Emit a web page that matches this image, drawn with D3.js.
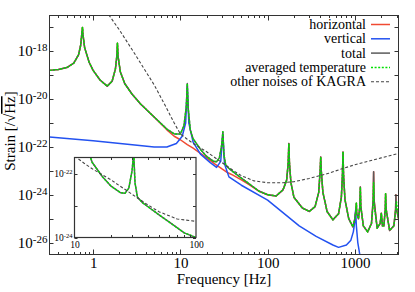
<!DOCTYPE html>
<html>
<head>
<meta charset="utf-8">
<script src="https://cdn.jsdelivr.net/npm/d3@7"></script>
<style>
  html, body { margin: 0; padding: 0; background: #fff; }
</style>
</head>
<body>
<div id="chart"></div>
<script>
// Series values: [frequency Hz, strain /sqrt(Hz)]
const averagedTemp = [
  [0.316, 1.6e-19], [0.4, 1.75e-19], [0.5, 2.1e-19], [0.6, 3.2e-19], [0.68, 7.1e-19],
  [0.72, 1.8e-18], [0.745, 6.3e-18], [0.755, 1e-17], [0.765, 5e-18], [0.8, 1.4e-18],
  [0.9, 3.5e-19], [1.0, 1.6e-19], [1.2, 6.3e-20], [1.45, 3.5e-20], [1.65, 5.6e-20],
  [1.8, 1.8e-19], [1.87, 6.3e-19], [1.9, 2.2e-18], [1.93, 6.3e-19], [2.05, 1.4e-19],
  [2.3, 4.5e-20], [2.8, 1.6e-20], [3.5, 6.3e-21], [5, 1.8e-21], [7, 5.6e-22],
  [8.5, 3.5e-22], [10, 3.5e-22], [11, 7.9e-22], [11.7, 5e-21], [12, 4.5e-20],
  [12.3, 4e-21], [13, 5e-22], [14, 2.2e-22], [17, 7.9e-23], [20, 4e-23],
  [24, 2.5e-23], [26, 2.4e-23], [28, 3.5e-23], [29.8, 1.26e-22], [30.7, 4.3e-22],
  [31.5, 5e-23], [33, 1.8e-23], [36, 1.26e-23], [40, 9.3e-24], [50, 5e-24],
  [62, 2.8e-24], [80, 1.4e-24], [100, 1e-24], [125, 8.9e-25], [150, 1.6e-24],
  [165, 4e-24], [172, 2e-23], [175, 1.4e-22], [178, 2e-23], [185, 3.2e-24],
  [200, 7.9e-25], [250, 2.8e-25], [300, 2e-25], [350, 3.2e-25], [385, 1.26e-24],
  [400, 1e-23], [406, 3.8e-23], [412, 1e-23], [430, 1.26e-24], [480, 2e-25],
  [560, 8.9e-26], [650, 1.6e-25], [700, 7.9e-25], [720, 6.3e-24], [731, 6.2e-23],
  [742, 6.3e-24], [770, 6.3e-25], [850, 1e-25], [950, 4.5e-26], [1000, 1e-25],
  [1030, 2.5e-25], [1040, 4.4e-25], [1050, 1.6e-25], [1100, 1e-25], [1140, 3.2e-25],
  [1155, 2.1e-24], [1170, 3.2e-25], [1250, 5e-26], [1400, 2.8e-26], [1550, 6.3e-26],
  [1620, 4e-25], [1640, 3.2e-24], [1660, 4e-25], [1800, 4e-26], [1950, 6.3e-26],
  [2010, 1.7e-25], [2070, 5e-26], [2150, 5e-26], [2230, 2.5e-25], [2250, 1.1e-24],
  [2280, 2.5e-25], [2500, 3.2e-26], [2800, 5e-26], [2950, 2.5e-25], [3000, 5e-25],
  [3162, 1e-25]
];

const totalNoise = [
  [0.316, 1.6e-19], [0.4, 1.75e-19], [0.5, 2.1e-19], [0.6, 3.2e-19], [0.68, 7.1e-19],
  [0.72, 1.8e-18], [0.745, 6.3e-18], [0.755, 1e-17], [0.765, 5e-18], [0.8, 1.4e-18],
  [0.9, 3.5e-19], [1.0, 1.6e-19], [1.2, 6.3e-20], [1.45, 3.5e-20], [1.65, 5.6e-20],
  [1.8, 1.8e-19], [1.87, 6.3e-19], [1.9, 2.2e-18], [1.93, 6.3e-19], [2.05, 1.4e-19],
  [2.3, 4.5e-20], [2.8, 1.6e-20], [3.5, 6.3e-21], [5, 1.8e-21], [7, 5.6e-22],
  [8.5, 3.5e-22], [10, 3.5e-22], [11, 7.9e-22], [11.7, 5e-21], [12, 4.5e-20],
  [12.3, 4e-21], [13, 5e-22], [14, 2.2e-22], [17, 7.9e-23], [20, 4e-23],
  [24, 2.5e-23], [26, 2.4e-23], [28, 3.5e-23], [29.8, 1.26e-22], [30.7, 4.3e-22],
  [31.5, 5e-23], [33, 1.8e-23], [36, 1.26e-23], [40, 9.3e-24], [50, 5e-24],
  [62, 2.8e-24], [80, 1.4e-24], [100, 1e-24], [125, 8.9e-25], [150, 1.6e-24],
  [165, 4e-24], [172, 2e-23], [175, 1.4e-22], [178, 2e-23], [185, 3.2e-24],
  [200, 7.9e-25], [250, 2.8e-25], [300, 2e-25], [350, 3.2e-25], [385, 1.26e-24],
  [400, 1e-23], [406, 3.8e-23], [412, 1e-23], [430, 1.26e-24], [480, 2e-25],
  [560, 8.9e-26], [650, 1.6e-25], [700, 7.9e-25], [720, 6.3e-24], [731, 6.2e-23],
  [742, 6.3e-24], [770, 6.3e-25], [850, 1e-25], [950, 4.5e-26], [1000, 1e-25],
  [1030, 2.5e-25], [1040, 4.4e-25], [1050, 1.6e-25], [1100, 1e-25], [1140, 3.2e-25],
  [1155, 2.1e-24], [1170, 3.2e-25], [1250, 5e-26], [1400, 2.8e-26], [1550, 6.3e-26],
  [1620, 6e-25], [1640, 9.1e-24], [1660, 6e-25], [1800, 4e-26], [1950, 6.3e-26],
  [2010, 1.7e-25], [2070, 5e-26], [2150, 5e-26], [2230, 2.5e-25], [2250, 1.1e-24],
  [2280, 2.5e-25], [2500, 3.2e-26], [2800, 5e-26], [2930, 2.5e-25], [2950, 1e-24],
  [2970, 3e-25], [3162, 1e-25]
];

const horizontal = [
  [0.316, 1.6e-19], [0.4, 1.75e-19], [0.5, 2.1e-19], [0.6, 3.2e-19], [0.68, 7.1e-19],
  [0.72, 1.8e-18], [0.745, 6.3e-18], [0.755, 1e-17], [0.765, 5e-18], [0.8, 1.4e-18],
  [0.9, 3.5e-19], [1.0, 1.6e-19], [1.2, 6.3e-20], [1.45, 3.5e-20], [1.65, 5.6e-20],
  [1.8, 1.8e-19], [1.87, 6.3e-19], [1.9, 2.2e-18], [1.93, 6.3e-19], [2.05, 1.4e-19],
  [2.3, 4.5e-20], [2.8, 1.6e-20], [3.5, 6.3e-21], [5, 1.8e-21], [7, 5.2e-22],
  [8.5, 2.8e-22], [10, 2e-22], [12, 1.26e-22], [14, 8.9e-23], [17, 5.4e-23],
  [20, 3.5e-23], [25, 1.9e-23], [30, 1.2e-23], [35, 8.3e-24], [40, 6.6e-24],
  [50, 4.2e-24], [62, 2.6e-24], [80, 1.4e-24], [100, 1e-24], [125, 8.9e-25],
  [150, 1.6e-24], [165, 4e-24], [172, 2e-23], [175, 1.4e-22], [178, 2e-23],
  [185, 3.2e-24], [200, 7.9e-25], [250, 2.8e-25], [300, 2e-25], [350, 3.2e-25],
  [385, 1.26e-24], [400, 1e-23], [406, 3.8e-23], [412, 1e-23], [430, 1.26e-24],
  [480, 2e-25], [560, 8.9e-26], [650, 1.6e-25], [700, 7.9e-25], [720, 6.3e-24],
  [731, 6.2e-23], [742, 6.3e-24], [770, 6.3e-25], [850, 1e-25], [950, 4.5e-26],
  [1000, 1e-25], [1030, 2.5e-25], [1040, 4.4e-25], [1050, 1.6e-25], [1100, 1e-25],
  [1140, 3.2e-25], [1155, 2.1e-24], [1170, 3.2e-25], [1250, 5e-26], [1400, 2.8e-26],
  [1550, 6.3e-26], [1620, 6e-25], [1640, 9.1e-24], [1660, 6e-25], [1800, 4e-26],
  [1950, 6.3e-26], [2010, 1.7e-25], [2070, 5e-26], [2150, 5e-26], [2230, 2.5e-25],
  [2250, 1.1e-24], [2280, 2.5e-25], [2500, 3.2e-26], [2800, 5e-26], [2930, 2.5e-25],
  [2950, 1e-24], [2970, 3e-25], [3162, 1e-25]
];

const vertical = [
  [0.316, 2.6e-22], [1, 1.8e-22], [3, 1.2e-22], [5, 1e-22], [7, 1e-22],
  [9, 1.4e-22], [10.5, 2.8e-22], [11.5, 1e-21], [12, 3.5e-20], [12.5, 1e-21],
  [14, 1.6e-22], [17, 5e-23], [22, 2.2e-23], [26, 1.4e-23], [29, 2.5e-23],
  [30.7, 3.5e-22], [32, 2e-23], [36, 5.6e-24], [50, 2.5e-24], [100, 6e-25],
  [230, 5e-26], [360, 1.8e-26], [560, 7.9e-27], [650, 6.3e-27], [800, 7.9e-27],
  [900, 1.26e-26], [960, 2.8e-26], [1000, 7.9e-26], [1020, 2.3e-25], [1040, 5e-26],
  [1080, 1e-26], [1150, 2.5e-27], [1300, 3.2e-28]
];

const kagraOther = [
  [1.4, 5e-17], [2, 7.9e-18], [3, 7.9e-19], [5, 4e-20], [7, 4e-21],
  [8.5, 1e-21], [10, 3.5e-22], [12, 2.1e-22], [14, 1.4e-22], [20, 6.3e-23],
  [30, 2.2e-23], [40, 1.05e-23], [50, 6.3e-24], [70, 3.8e-24], [100, 3.2e-24],
  [150, 3.2e-24], [200, 3.5e-24], [300, 4.8e-24], [500, 7.9e-24], [700, 1.2e-23],
  [1000, 1.8e-23], [2000, 3.5e-23], [3162, 5.4e-23]
];

const xMajorTicks = [1, 10, 100, 1000];
const yDecades = [-26, -25, -24, -23, -22, -21, -20, -19, -18, -17];
const yLabelled = [-26, -24, -22, -20, -18];
const insetYDecades = [-24, -23, -22];
const insetYLabelled = [-24, -22];
const legendNames = ["horizontal", "vertical", "total", "averaged temperature", "other noises of KAGRA"];

const SERIF = "'Liberation Serif', 'Times New Roman', Times, 'DejaVu Serif', serif";

document.addEventListener('DOMContentLoaded', function () {
  const W = 415, H = 292;
  const plot = { left: 49.5, right: 398.5, top: 15.5, bottom: 254.5 };
  const inset = { left: 74.5, right: 196, top: 157.5, bottom: 237.5 };

  const svg = d3.select("#chart").append("svg")
    .attr("width", W).attr("height", H)
    .style("display", "block")
    .style("font-family", SERIF);

  svg.append("rect").attr("width", W).attr("height", H).attr("fill", "#fff");

  const x = d3.scaleLog().domain([Math.pow(10, -0.5), Math.pow(10, 3.5)]).range([plot.left, plot.right]);
  const y = d3.scaleLog().domain([Math.pow(10, -26.5), Math.pow(10, -16.5)]).range([plot.bottom, plot.top]);

  const xi = d3.scaleLog().domain([10, 100]).range([inset.left, inset.right]);
  const yi = d3.scaleLog().domain([1e-24, Math.pow(10, -21.5)]).range([inset.bottom, inset.top]);

  const defs = svg.append("defs");
  defs.append("clipPath").attr("id", "clip-main").append("rect")
    .attr("x", plot.left).attr("y", plot.top)
    .attr("width", plot.right - plot.left).attr("height", plot.bottom - plot.top);
  defs.append("clipPath").attr("id", "clip-inset").append("rect")
    .attr("x", inset.left).attr("y", inset.top)
    .attr("width", inset.right - inset.left).attr("height", inset.bottom - inset.top);

  // series styles
  const series = [
    { data: horizontal,   color: "#f04a32", width: 1.5, dash: null,    inInset: false },
    { data: vertical,     color: "#2352f0", width: 1.5, dash: null,    inInset: false },
    { data: totalNoise,   color: "#5a5a5a", width: 1.5, dash: null,    inInset: true },
    { data: averagedTemp, color: "#00e000", width: 1.5, dash: "2 1.6", inInset: true },
    { data: kagraOther,   color: "#444444", width: 1.1, dash: "3 2",   inInset: true }
  ];

  function drawSeries(g, xs, ys, list) {
    const line = d3.line().x(d => xs(d[0])).y(d => ys(d[1]));
    list.forEach(s => {
      g.append("path")
        .datum(s.data)
        .attr("d", line)
        .attr("fill", "none")
        .attr("stroke", s.color)
        .attr("stroke-width", s.width)
        .attr("stroke-linejoin", "round")
        .attr("stroke-dasharray", s.dash);
    });
  }

  drawSeries(svg.append("g").attr("clip-path", "url(#clip-main)"), x, y, series);

  // main axes, ticks pointing inward
  const minorX = [];
  [0.1, 1, 10, 100, 1000].forEach(b => { for (let k = 2; k <= 9; k++) minorX.push(b * k); });
  const minorXIn = minorX.filter(v => v > x.domain()[0] && v < x.domain()[1]);

  const axisCol = "#333";
  function tickLines(g, vals, sc, orient, pos, len) {
    vals.forEach(v => {
      const p = Math.round(sc(v)) + 0.5;
      if (orient === "bottom") g.append("line").attr("x1", p).attr("x2", p).attr("y1", pos).attr("y2", pos - len);
      if (orient === "top") g.append("line").attr("x1", p).attr("x2", p).attr("y1", pos).attr("y2", pos + len);
      if (orient === "left") g.append("line").attr("y1", p).attr("y2", p).attr("x1", pos).attr("x2", pos + len);
      if (orient === "right") g.append("line").attr("y1", p).attr("y2", p).attr("x1", pos).attr("x2", pos - len);
    });
    g.selectAll("line").attr("stroke", axisCol).attr("stroke-width", 1);
  }

  const ticks = svg.append("g");
  const yDecVals = yDecades.map(e => Math.pow(10, e));
  tickLines(ticks, xMajorTicks, x, "bottom", plot.bottom, 5);
  tickLines(ticks, minorXIn, x, "bottom", plot.bottom, 2.5);
  tickLines(ticks, xMajorTicks, x, "top", plot.top, 5);
  tickLines(ticks, minorXIn, x, "top", plot.top, 2.5);
  tickLines(ticks, yDecVals, y, "left", plot.left, 4);
  tickLines(ticks, yDecVals, y, "right", plot.right, 4);

  svg.append("rect")
    .attr("x", plot.left).attr("y", plot.top)
    .attr("width", plot.right - plot.left).attr("height", plot.bottom - plot.top)
    .attr("fill", "none").attr("stroke", axisCol).attr("stroke-width", 1);

  // x tick labels via d3 axis
  const xAxis = svg.append("g")
    .attr("transform", `translate(0,${plot.bottom})`)
    .call(d3.axisBottom(x).tickValues(xMajorTicks).tickSize(0).tickPadding(3).tickFormat(d3.format("d")))
    .attr("font-family", SERIF);
  xAxis.select(".domain").remove();
  xAxis.selectAll("text").style("font-size", "15px").style("font-family", SERIF);

  // y tick labels: 10^n
  const yAxis = svg.append("g")
    .attr("transform", `translate(${plot.left},0)`)
    .call(d3.axisLeft(y).tickValues(yLabelled.map(e => Math.pow(10, e))).tickSize(0).tickPadding(2).tickFormat(""))
    .attr("font-family", SERIF);
  yAxis.select(".domain").remove();
  yAxis.selectAll(".tick text").each(function (d) {
    const t = d3.select(this).style("font-family", SERIF).style("font-size", "15px").attr("dy", "0.3em");
    t.append("tspan").text("10");
    t.append("tspan").attr("dy", "-0.45em").style("font-size", "11px").text(Math.round(Math.log10(d)));
  });

  // axis titles
  svg.append("text")
    .attr("x", (plot.left + plot.right) / 2).attr("y", 284)
    .attr("text-anchor", "middle").style("font-size", "15px").style("font-family", SERIF)
    .text("Frequency [Hz]");

  const yt = svg.append("text")
    .attr("transform", "translate(15,131) rotate(-90)")
    .attr("text-anchor", "middle").style("font-size", "15px").style("font-family", SERIF);
  yt.append("tspan").text("Strain [/√");
  yt.append("tspan").style("text-decoration", "overline").text("Hz");
  yt.append("tspan").text("]");

  // legend
  const legend = svg.append("g");
  series.forEach((s, i) => {
    const cy = 24.5 + i * 14.3;
    legend.append("text")
      .attr("x", 366).attr("y", cy + 4.5)
      .attr("text-anchor", "end").style("font-size", "14px").style("font-family", SERIF)
      .text(legendNames[i]);
    legend.append("line")
      .attr("x1", 371).attr("x2", 390).attr("y1", cy).attr("y2", cy)
      .attr("stroke", s.color).attr("stroke-width", s.width)
      .attr("stroke-dasharray", s.dash);
  });

  // inset
  svg.append("rect")
    .attr("x", inset.left).attr("y", inset.top)
    .attr("width", inset.right - inset.left).attr("height", inset.bottom - inset.top)
    .attr("fill", "#fff");
  drawSeries(svg.append("g").attr("clip-path", "url(#clip-inset)"), xi, yi, series.filter(s => s.inInset));

  const iticks = svg.append("g");
  const insetMinor = [20, 30, 40, 50, 60, 70, 80, 90];
  const insetYVals = insetYDecades.map(e => Math.pow(10, e));
  tickLines(iticks, insetMinor, xi, "bottom", inset.bottom, 2.5);
  tickLines(iticks, insetMinor, xi, "top", inset.top, 2.5);
  tickLines(iticks, insetYVals, yi, "left", inset.left, 3);
  tickLines(iticks, insetYVals, yi, "right", inset.right, 3);
  svg.append("rect")
    .attr("x", inset.left).attr("y", inset.top)
    .attr("width", inset.right - inset.left).attr("height", inset.bottom - inset.top)
    .attr("fill", "none").attr("stroke", axisCol).attr("stroke-width", 1.2);

  const ixAxis = svg.append("g")
    .attr("transform", `translate(0,${inset.bottom})`)
    .call(d3.axisBottom(xi).tickValues([10, 100]).tickSize(0).tickPadding(4).tickFormat(d3.format("d")))
    .attr("font-family", SERIF);
  ixAxis.select(".domain").remove();
  ixAxis.selectAll("text").style("font-family", SERIF).style("font-size", "9.5px");

  const iyAxis = svg.append("g")
    .attr("transform", `translate(${inset.left},0)`)
    .call(d3.axisLeft(yi).tickValues(insetYLabelled.map(e => Math.pow(10, e))).tickSize(0).tickPadding(2).tickFormat(""))
    .attr("font-family", SERIF);
  iyAxis.select(".domain").remove();
  iyAxis.selectAll(".tick text").each(function (d) {
    const t = d3.select(this).style("font-family", SERIF).style("font-size", "9.5px").attr("dy", "0.3em");
    t.append("tspan").text("10");
    t.append("tspan").attr("dy", "-0.45em").style("font-size", "6.5px").text(Math.round(Math.log10(d)));
  });
});
</script>
</body>
</html>
